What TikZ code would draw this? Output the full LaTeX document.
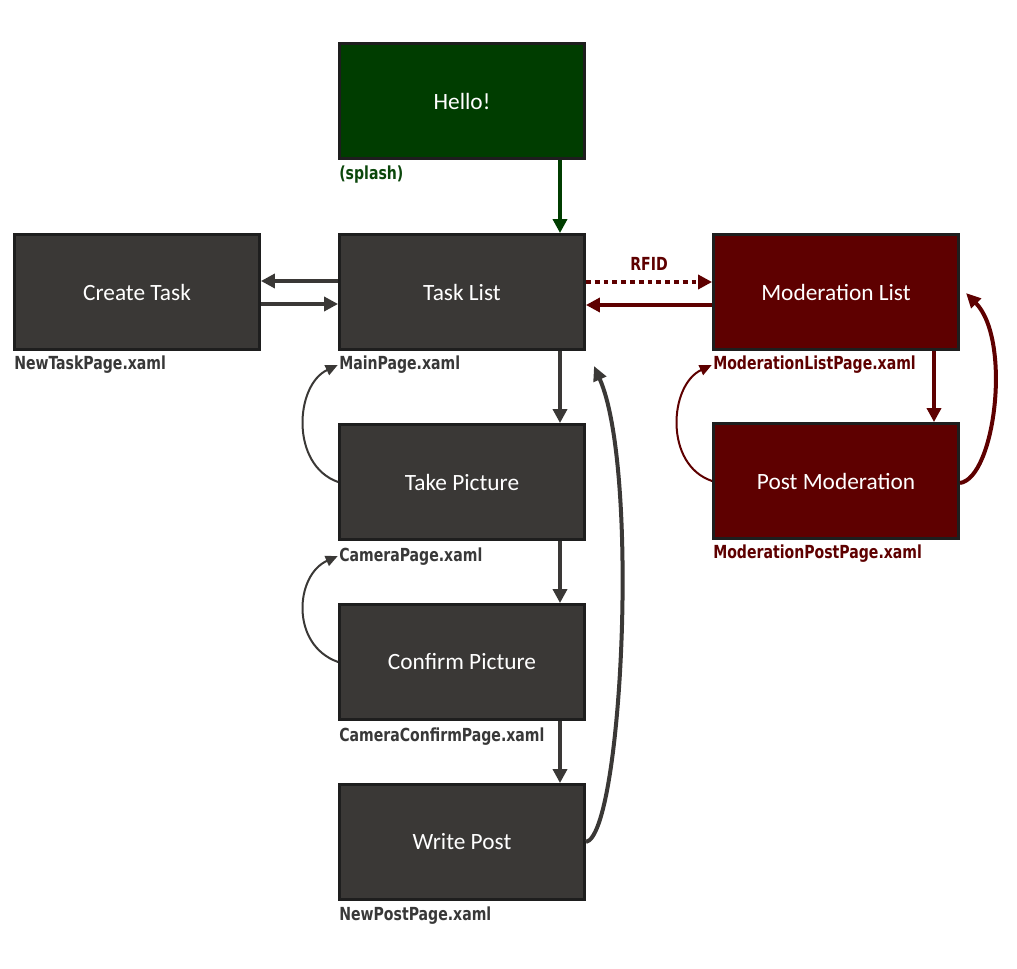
\documentclass[tikz,border=0pt]{standalone}
\usepackage{fontspec}
\setmainfont{Carlito}
\newfontfamily\lblfont{DejaVu Sans Condensed}[FakeStretch=0.87]
\usetikzlibrary{arrows.meta}
\definecolor{boxgray}{HTML}{3A3836}
\definecolor{edgegray}{HTML}{1E1E1E}
\definecolor{splashgreen}{HTML}{003D00}
\definecolor{lblgreen}{HTML}{0B470B}
\definecolor{modred}{HTML}{5E0000}
\definecolor{lblgray}{HTML}{383838}
\begin{document}
\begin{tikzpicture}[x=0.75pt,y=-0.75pt,
  page/.style={draw=edgegray,line width=1.9pt,minimum width=184pt,minimum height=86.5pt,
    inner sep=0pt,text=white,font=\fontsize{17.5}{20}\selectfont},
  graypage/.style={page,fill=boxgray},
  greenpage/.style={page,fill=splashgreen},
  redpage/.style={page,fill=modred},
  lblfonts/.style={font=\lblfont\bfseries\fontsize{13.5}{15}\selectfont},
  lbl/.style={anchor=base west,inner sep=0pt,lblfonts},
  flow/.style={line width=3pt,-{Triangle[length=10.5pt,width=10.5pt]}},
  back/.style={line width=1.5pt,-{Triangle[length=9pt,width=8pt]}},
  bigback/.style={line width=3pt,-{Triangle[length=11pt,width=10pt]}}]
\useasboundingbox (0,0) rectangle (1017,969);

% pages
\node[greenpage] (hello) at (462,101) {Hello!};
\node[graypage] (tasks) at (462,292) {Task List};
\node[graypage] (create) at (137,292) {Create Task};
\node[redpage] (modlist) at (836,292) {Moderation List};
\node[graypage] (take) at (462,482) {Take Picture};
\node[redpage] (modpost) at (836,481) {Post Moderation};
\node[graypage] (confirm) at (462,662) {Confirm Picture};
\node[graypage] (write) at (462,842) {Write Post};

% file names
\node[lbl,text=lblgreen] (splashlbl) at (339,180) {(splash)};
\node[lbl,text=lblgray] (createlbl) at (14,370) {NewTaskPage.xaml};
\node[lbl,text=lblgray] (mainlbl) at (339,370) {MainPage.xaml};
\node[lbl,text=modred] (modlistlbl) at (713,370) {ModerationListPage.xaml};
\node[lbl,text=lblgray] (cameralbl) at (339,561) {CameraPage.xaml};
\node[lbl,text=modred] (modpostlbl) at (713,558) {ModerationPostPage.xaml};
\node[lbl,text=lblgray] (confirmlbl) at (339,741) {CameraConfirmPage.xaml};
\node[lbl,text=lblgray] (newpostlbl) at (339,920) {NewPostPage.xaml};

% main flow
\draw[flow,color=splashgreen] (hello.south -| 560,0) -- (tasks.north -| 560,0);
\draw[flow,color=boxgray] ([yshift=11*0.75pt]tasks.west) -- ([yshift=11*0.75pt]create.east);
\draw[flow,color=boxgray] ([yshift=-12*0.75pt]create.east) -- ([yshift=-12*0.75pt]tasks.west);
\draw[flow,color=boxgray] (tasks.south -| 560,0) -- (take.north -| 560,0);
\draw[flow,color=boxgray] (take.south -| 560,0) -- (confirm.north -| 560,0);
\draw[flow,color=boxgray] (confirm.south -| 560,0) -- (write.north -| 560,0);

% moderation
\draw[flow,color=modred,dash pattern=on 3.6pt off 3pt] ([yshift=10*0.75pt]tasks.east) -- ([yshift=10*0.75pt]modlist.west)
  node[midway,above=4pt,text=modred,lblfonts] (rfid) {RFID};
\draw[flow,color=modred] ([yshift=-13*0.75pt]modlist.west) -- ([yshift=-13*0.75pt]tasks.east);
\draw[flow,color=modred] (modlist.south -| 934,0) -- (modpost.north -| 934,0);

% return paths
\coordinate (mainret) at (594,366);
\coordinate (modret) at (966,293);
\draw[bigback,color=boxgray] (write.east) .. controls (622,835) and (640,470) .. (mainret);
\draw[bigback,color=modred] ([yshift=-2*0.75pt]modpost.east) .. controls (995,478) and (1012,340) .. (modret);
\draw[back,color=boxgray] (take.west) .. controls (290,465) and (295,385) .. ([xshift=-1pt]mainlbl.west);
\draw[back,color=boxgray] (confirm.west) .. controls (290,645) and (295,575) .. ([xshift=-1pt]cameralbl.west);
\draw[back,color=modred] (modpost.west) .. controls (664,465) and (669,385) .. ([xshift=-1pt]modlistlbl.west);
\end{tikzpicture}
\end{document}
